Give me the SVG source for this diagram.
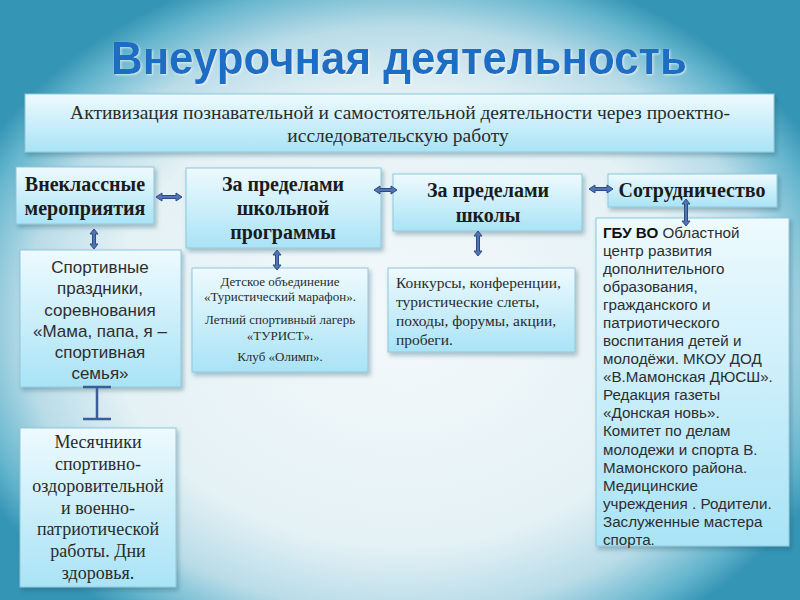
<svg xmlns="http://www.w3.org/2000/svg" width="800" height="600" viewBox="0 0 800 600">
<defs>
  <radialGradient id="bg" cx="400" cy="320" r="470" gradientUnits="userSpaceOnUse" gradientTransform="translate(400 320) scale(1 0.78) translate(-400 -320)">
    <stop offset="0" stop-color="#f4f9fb"/>
    <stop offset="0.62" stop-color="#e4f1f5"/>
    <stop offset="0.8" stop-color="#b9dce8"/>
    <stop offset="0.93" stop-color="#64b5cd"/>
    <stop offset="1" stop-color="#3595b4"/>
  </radialGradient>
  <linearGradient id="boxg" x1="0" y1="0" x2="0" y2="1">
    <stop offset="0" stop-color="#eefafe"/>
    <stop offset="1" stop-color="#a9e3f6"/>
  </linearGradient>
  <filter id="sh" x="-10%" y="-10%" width="130%" height="130%">
    <feDropShadow dx="2" dy="3" stdDeviation="2" flood-color="#1d4f63" flood-opacity="0.35"/>
  </filter>
  <filter id="glow" x="-5%" y="-20%" width="110%" height="140%">
    <feDropShadow dx="1" dy="1" stdDeviation="1" flood-color="#ffffff" flood-opacity="0.7"/>
  </filter>
  <style>
    .box { fill: url(#boxg); stroke: #8cc8dc; stroke-width: 1; filter: url(#sh); }
    .hd { font-family: "Liberation Serif", "Times New Roman", serif; font-weight: bold; font-size: 20px; fill: #1b1b1b; text-anchor: middle; }
    .ser { font-family: "Liberation Serif", "Times New Roman", serif; fill: #2b2b2b; }
    .sans { font-family: "Liberation Sans", Arial, sans-serif; fill: #2e2e2e; }
    .mid { text-anchor: middle; }
    .arr { fill: #5075b2; stroke: #2c4a85; stroke-width: 1; stroke-linejoin: round; }
    .ibeam { stroke: #3d5d98; stroke-width: 2.5; fill: none; }
  </style>
</defs>

<rect x="0" y="0" width="800" height="600" fill="url(#bg)"/>

<text x="399" y="74" font-family="Liberation Sans, Arial, sans-serif" font-weight="bold" font-size="46" fill="#1a6ec4" text-anchor="middle" textLength="576" lengthAdjust="spacingAndGlyphs" filter="url(#glow)">Внеурочная деятельность</text>

<g id="top">
  <rect class="box" x="25" y="94" width="749" height="58"/>
  <text class="ser mid" x="400" y="119" font-size="19.5">Активизация познавательной и самостоятельной деятельности через проектно-</text>
  <text class="ser mid" x="398" y="142" font-size="19.5">исследовательскую работу</text>
</g>

<g id="b1">
  <rect class="box" x="16" y="167" width="138" height="57"/>
  <text class="hd" x="85" y="191" font-size="18.5">Внеклассные</text>
  <text class="hd" x="85" y="215" font-size="18.5">мероприятия</text>
</g>

<g id="b2">
  <rect class="box" x="186" y="168" width="195" height="80"/>
  <text class="hd" x="283" y="191">За пределами</text>
  <text class="hd" x="283" y="215">школьной</text>
  <text class="hd" x="283" y="239">программы</text>
</g>

<g id="b3">
  <rect class="box" x="393" y="174" width="189" height="57"/>
  <text class="hd" x="488" y="197">За пределами</text>
  <text class="hd" x="488" y="222">школы</text>
</g>

<g id="b4">
  <rect class="box" x="608" y="174" width="169" height="33"/>
  <text class="hd" x="692" y="197">Сотрудничество</text>
</g>

<g id="b5">
  <rect class="box" x="596" y="218" width="193" height="328"/>
  <g class="sans" font-size="15.2">
    <text x="603" y="238"><tspan font-weight="bold" fill="#111">ГБУ ВО</tspan> Областной</text>
    <text x="603" y="256">центр развития</text>
    <text x="603" y="274">дополнительного</text>
    <text x="603" y="292">образования,</text>
    <text x="603" y="310">гражданского и</text>
    <text x="603" y="328">патриотического</text>
    <text x="603" y="346">воспитания детей и</text>
    <text x="603" y="364">молодёжи. МКОУ ДОД</text>
    <text x="603" y="382">«В.Мамонская ДЮСШ».</text>
    <text x="603" y="400">Редакция газеты</text>
    <text x="603" y="418">«Донская новь».</text>
    <text x="603" y="436">Комитет по делам</text>
    <text x="603" y="455">молодежи и спорта В.</text>
    <text x="603" y="473">Мамонского района.</text>
    <text x="603" y="491">Медицинские</text>
    <text x="603" y="509">учреждения . Родители.</text>
    <text x="603" y="527">Заслуженные мастера</text>
    <text x="603" y="545">спорта.</text>
  </g>
</g>

<g id="b6">
  <rect class="box" x="20" y="250" width="161" height="137"/>
  <g class="sans mid" font-size="17">
    <text x="100" y="273">Спортивные</text>
    <text x="100" y="294">праздники,</text>
    <text x="100" y="316">соревнования</text>
    <text x="100" y="337">«Мама, папа, я –</text>
    <text x="100" y="358">спортивная</text>
    <text x="100" y="379">семья»</text>
  </g>
</g>

<g id="b7">
  <rect class="box" x="192" y="268" width="176" height="104"/>
  <g class="ser mid" font-size="13">
    <text x="280" y="286">Детское объединение</text>
    <text x="280" y="301">«Туристический марафон».</text>
    <text x="280" y="324">Летний спортивный лагерь</text>
    <text x="280" y="340">«ТУРИСТ».</text>
    <text x="280" y="361">Клуб «Олимп».</text>
  </g>
</g>

<g id="b8">
  <rect class="box" x="388" y="268" width="187" height="84"/>
  <g class="ser" font-size="15.5">
    <text x="396" y="288">Конкурсы, конференции,</text>
    <text x="396" y="307">туристические слеты,</text>
    <text x="396" y="326">походы, форумы, акции,</text>
    <text x="396" y="345">пробеги.</text>
  </g>
</g>

<g id="b10">
  <rect class="box" x="20" y="428" width="156" height="159"/>
  <g class="ser mid" font-size="18">
    <text x="98" y="448">Месячники</text>
    <text x="98" y="470">спортивно-</text>
    <text x="98" y="492">оздоровительной</text>
    <text x="98" y="514">и военно-</text>
    <text x="98" y="535">патриотической</text>
    <text x="98" y="557">работы. Дни</text>
    <text x="98" y="579">здоровья.</text>
  </g>
</g>

<g id="connectors">
  <polygon class="arr" points="156,197 162,193 162,195.5 176,195.5 176,193 182,197 176,201 176,198.5 162,198.5 162,201"/>
  <polygon class="arr" points="374,190 380,186 380,188.5 391,188.5 391,186 397,190 391,194 391,191.5 380,191.5 380,194"/>
  <polygon class="arr" points="589,189 595,185 595,187.5 607,187.5 607,185 613,189 607,193 607,190.5 595,190.5 595,193"/>
  <polygon class="arr" points="686,199 690,204 687.5,204 687.5,221 690,221 686,226 682,221 684.5,221 684.5,204 682,204"/>
  <polygon class="arr" points="94,229 98,234 95.5,234 95.5,244 98,244 94,249 90,244 92.5,244 92.5,234 90,234"/>
  <polygon class="arr" points="277,250 281,255 278.5,255 278.5,265 281,265 277,270 273,265 275.5,265 275.5,255 273,255"/>
  <polygon class="arr" points="478,231 482,236 479.5,236 479.5,251 482,251 478,256 474,251 476.5,251 476.5,236 474,236"/>
  <path class="ibeam" d="M83,387 H111 M97,387 V419 M83,419 H111"/>
</g>
</svg>
